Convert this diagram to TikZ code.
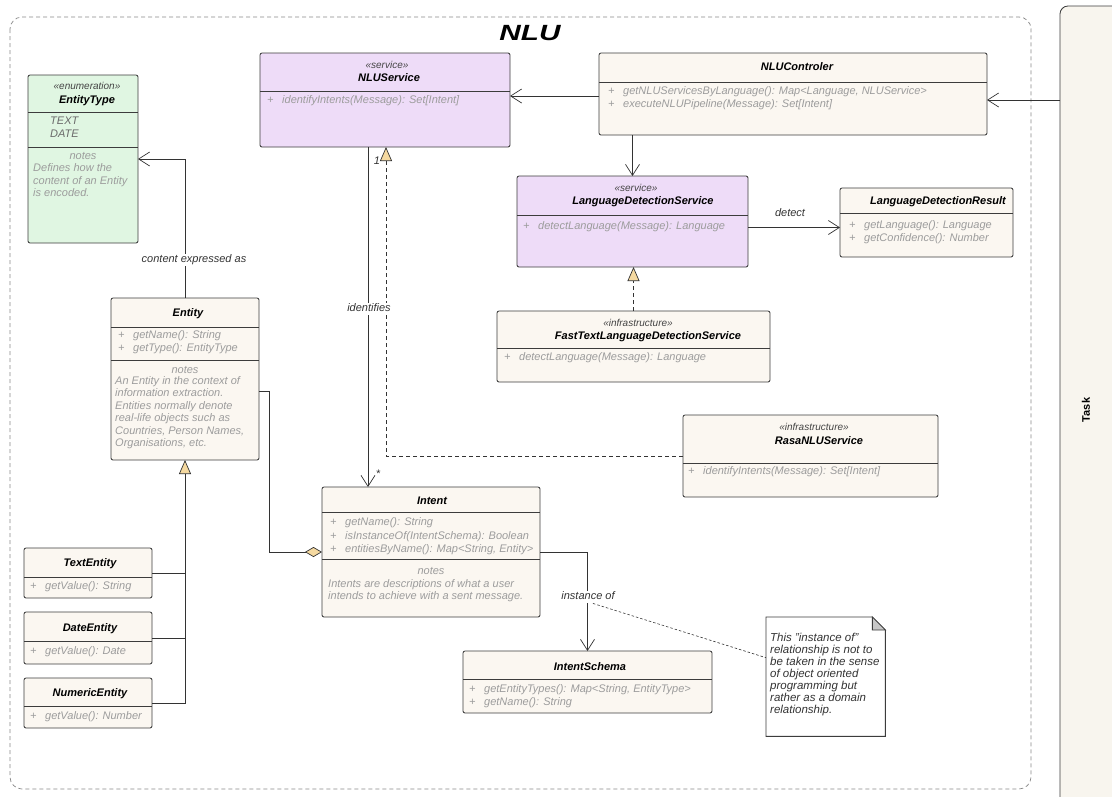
\documentclass[tikz,border=0pt]{standalone}
\usepackage{fontspec}
\setmainfont{Liberation Sans}
\usetikzlibrary{arrows.meta,calc}

\definecolor{creamc}{HTML}{FBF7F1}
\definecolor{lavc}{HTML}{EEDCF8}
\definecolor{greenc}{HTML}{E0F6E2}
\definecolor{tanc}{HTML}{F5D9A0}
\definecolor{linec}{HTML}{3C3C3C}
\definecolor{memc}{HTML}{9C9C9C}
\definecolor{sterc}{HTML}{444444}
\definecolor{labc}{HTML}{333333}
\definecolor{taskc}{HTML}{F8F5EE}
\definecolor{pkgc}{HTML}{888888}
\definecolor{enumc}{HTML}{6A6A6A}

\tikzset{
  box/.style={draw=linec, line width=0.85pt, rounded corners=2pt, anchor=north west,
    inner sep=0pt, outer sep=0pt},
  txt/.style={inner sep=0pt, text height=8pt, text depth=2.5pt},
  ttl/.style={txt, font=\fontsize{11}{13}\selectfont\bfseries\itshape, text=black},
  ster/.style={txt, font=\fontsize{10}{12}\selectfont\itshape, text=sterc},
  mem/.style={txt, anchor=west, font=\fontsize{11}{13}\selectfont\itshape, text=memc},
  notehd/.style={txt, font=\fontsize{11}{13}\selectfont\itshape, text=memc},
  notetxt/.style={txt, anchor=west, font=\fontsize{11.5}{13}\selectfont\itshape, text=labc},
  lbl/.style={txt, font=\fontsize{11}{13}\selectfont\itshape, text=labc},
  sepl/.style={draw=linec, line width=0.85pt},
  conn/.style={draw=labc, line width=0.7pt},
  assoc/.style={conn, -{Straight Barb[length=11pt,width=14pt]}},
  realz/.style={draw=labc, line width=0.7pt, dash pattern=on 4pt off 3pt,
    -{Triangle[length=14pt,width=12pt,fill=tanc]}},
  gen/.style={conn, {Triangle[length=14pt,width=12pt,fill=tanc]}-},
  aggr/.style={conn, -{Diamond[length=17pt,width=10pt,fill=tanc]}},
}

% "+" marker and member text of one class row
\newcommand\mbr[4]{%
  \node[mem] (#1p) at (#2,#3) {+};
  \node[mem] (#1) at ({#2+15},#3) {#4};}

\begin{document}
\begin{tikzpicture}[x=1pt,y=-1pt]
\useasboundingbox (0,0) rectangle (1112,796);

% package frame and side lane
\draw[draw=pkgc, line width=0.7pt, dash pattern=on 4pt off 3pt, rounded corners=12pt]
  (10,17) rectangle (1031,789);
\node[inner sep=0pt, xscale=1.35, font=\fontsize{22}{24}\selectfont\bfseries\itshape] (pkgtitle) at (530,33) {NLU};
\node[box, fill=taskc, draw=linec, rounded corners=8pt, minimum width=80pt, minimum height=810pt] (task) at (1060,6) {};
\node[txt, rotate=90, font=\fontsize{11}{13}\selectfont\bfseries] (tasklbl) at (1087,410) {Task};

% NLUService
\node[box, fill=lavc, minimum width=250pt, minimum height=94pt] (svc) at (260,53) {};
\node[ster] (svcS) at (387,66) {«service»};
\node[ttl] (svcN) at (389,79) {NLUService};
\draw[sepl] (260,91) -- (510,91);
\mbr{svcM}{267}{101}{identifyIntents(Message): Set[Intent]}

% NLUControler
\node[box, fill=creamc, minimum width=388pt, minimum height=82pt] (ctrl) at (599,53) {};
\node[ttl] (ctrlN) at (797,68) {NLUControler};
\draw[sepl] (599,82) -- (987,82);
\mbr{ctrlA}{608}{92}{getNLUServicesByLanguage(): Map<Language, NLUService>}
\mbr{ctrlB}{608}{105}{executeNLUPipeline(Message): Set[Intent]}

% LanguageDetectionService
\node[box, fill=lavc, minimum width=231pt, minimum height=91pt] (lds) at (517,176) {};
\node[ster] (ldsS) at (636,189) {«service»};
\node[ttl] (ldsN) at (643,202) {LanguageDetectionService};
\draw[sepl] (517,215) -- (748,215);
\mbr{ldsM}{523}{227}{detectLanguage(Message): Language}

% LanguageDetectionResult
\node[box, fill=creamc, minimum width=173pt, minimum height=69pt] (ldr) at (840,188) {};
\node[ttl] (ldrN) at (938,202) {LanguageDetectionResult};
\draw[sepl] (840,213) -- (1013,213);
\mbr{ldrA}{849}{226}{getLanguage(): Language}
\mbr{ldrB}{849}{239}{getConfidence(): Number}

% FastTextLanguageDetectionService
\node[box, fill=creamc, minimum width=273pt, minimum height=71pt] (ft) at (497,311) {};
\node[ster] (ftS) at (638,324) {«infrastructure»};
\node[ttl] (ftN) at (648,337) {FastTextLanguageDetectionService};
\draw[sepl] (497,348) -- (770,348);
\mbr{ftM}{504}{358}{detectLanguage(Message): Language}

% RasaNLUService
\node[box, fill=creamc, minimum width=255pt, minimum height=82pt] (rasa) at (683,415) {};
\node[ster] (rasaS) at (814,428) {«infrastructure»};
\node[ttl] (rasaN) at (819,442) {RasaNLUService};
\draw[sepl] (683,463) -- (938,463);
\mbr{rasaM}{688}{472}{identifyIntents(Message): Set[Intent]}

% EntityType
\node[box, fill=greenc, minimum width=110pt, minimum height=168pt] (etype) at (28,75) {};
\node[ster] (etypeS) at (87,87) {«enumeration»};
\node[ttl] (etypeN) at (87,101) {EntityType};
\draw[sepl] (28,112) -- (138,112);
\node[mem, text=enumc] (etT) at (50,122) {TEXT};
\node[mem, text=enumc] (etD) at (50,135) {DATE};
\draw[sepl] (28,147) -- (138,147);
\node[notehd] (etNo) at (83,157) {notes};
\node[mem] (etL1) at (33,169) {Defines how the};
\node[mem] (etL2) at (33,182) {content of an Entity};
\node[mem] (etL3) at (33,194) {is encoded.};

% Entity
\node[box, fill=creamc, minimum width=148pt, minimum height=162pt] (entity) at (111,298) {};
\node[ttl] (entN) at (188,314) {Entity};
\draw[sepl] (111,327) -- (259,327);
\mbr{entA}{118}{336}{getName(): String}
\mbr{entB}{118}{349}{getType(): EntityType}
\draw[sepl] (111,360) -- (259,360);
\node[notehd] (entNo) at (185,371) {notes};
\node[mem] (entL1) at (115,382) {An Entity in the context of};
\node[mem] (entL2) at (115,394) {information extraction.};
\node[mem] (entL3) at (115,407) {Entities normally denote};
\node[mem] (entL4) at (115,419) {real-life objects such as};
\node[mem] (entL5) at (115,432) {Countries, Person Names,};
\node[mem] (entL6) at (115,444) {Organisations, etc.};

% Intent
\node[box, fill=creamc, minimum width=218pt, minimum height=130pt] (intent) at (322,487) {};
\node[ttl] (intN) at (432,502) {Intent};
\draw[sepl] (322,512) -- (540,512);
\node[mem] (intAp) at (330,523) {+};
\node[mem] (intA) at (345,523) {getName(): String};
\node[mem] (intBp) at (330,537) {+};
\node[mem] (intB) at (345,537) {isInstanceOf(IntentSchema): Boolean};
\node[mem] (intCp) at (330,550) {+};
\node[mem] (intC) at (345,550) {entitiesByName(): Map<String, Entity>};
\draw[sepl] (322,559) -- (540,559);
\node[notehd] (intNo) at (431,572) {notes};
\node[mem] (intL1) at (328,585) {Intents are descriptions of what a user};
\node[mem] (intL2) at (328,597) {intends to achieve with a sent message.};

% Entity subclasses
\node[box, fill=creamc, minimum width=128pt, minimum height=50pt] (tent) at (24,548) {};
\node[ttl] (tentN) at (90,564) {TextEntity};
\draw[sepl] (24,577) -- (152,577);
\mbr{tentM}{30}{587}{getValue(): String}

\node[box, fill=creamc, minimum width=128pt, minimum height=52pt] (dent) at (24,612) {};
\node[ttl] (dentN) at (90,629) {DateEntity};
\draw[sepl] (24,641) -- (152,641);
\mbr{dentM}{30}{652}{getValue(): Date}

\node[box, fill=creamc, minimum width=128pt, minimum height=50pt] (nent) at (24,678) {};
\node[ttl] (nentN) at (90,694) {NumericEntity};
\draw[sepl] (24,706) -- (152,706);
\mbr{nentM}{30}{717}{getValue(): Number}

% IntentSchema
\node[box, fill=creamc, minimum width=249pt, minimum height=62pt] (schema) at (463,651) {};
\node[ttl] (schN) at (590,668) {IntentSchema};
\draw[sepl] (463,679) -- (712,679);
\mbr{schA}{469}{690}{getEntityTypes(): Map<String, EntityType>}
\mbr{schB}{469}{703}{getName(): String}

% note with folded corner
\node[anchor=north west, inner sep=0pt, minimum width=119pt, minimum height=119pt] (note) at (766,617) {};
\draw[draw=linec, line width=0.85pt, fill=white]
  (note.north west) -- ($(note.north east)+(-13,0)$) -- ($(note.north east)+(0,13)$)
  -- (note.south east) -- (note.south west) -- cycle;
\draw[draw=linec, line width=0.85pt, fill=black!22]
  ($(note.north east)+(-13,0)$) -- ($(note.north east)+(-13,13)$) -- ($(note.north east)+(0,13)$) -- cycle;
\node[notetxt] (noteL1) at (770,639) {This "instance of"};
\node[notetxt] (noteL2) at (770,651) {relationship is not to};
\node[notetxt] (noteL3) at (770,663) {be taken in the sense};
\node[notetxt] (noteL4) at (770,675) {of object oriented};
\node[notetxt] (noteL5) at (770,687) {programming but};
\node[notetxt] (noteL6) at (770,699) {rather as a domain};
\node[notetxt] (noteL7) at (770,711) {relationship.};

% connectors
\coordinate (tin) at ($(ctrl.east)+(0,6)$);
\draw[assoc] (tin -| task.west) -- (tin);
\draw[assoc] ([yshift=-2pt]ctrl.west) -- ([yshift=4pt]svc.east);
\draw[assoc] (lds.north |- ctrl.south) -- (lds.north);
\coordinate (dout) at ($(lds.east)+(0,6)$);
\draw[assoc] (dout) -- (dout -| ldr.west);
\node[lbl, anchor=south] (detectL) at (790,219) {detect};
\draw[realz] (ft.north) -- (ft.north |- lds.south);
\draw[realz] (rasa.west) -| ([xshift=1pt]svc.south);

\draw[assoc] ([xshift=-17pt]svc.south) -- ([xshift=-63pt]intent.north);
\node[lbl] (oneL) at (377,162) {1};
\node[lbl] (starL) at (378,475) {*};
\node[lbl, fill=white, inner ysep=1pt] (identL) at (369,309) {identifies};

\draw[assoc] (entity.north) |- (etype.east);
\node[lbl, fill=white, inner ysep=1pt] (contentL) at (194,260) {content expressed as};

\coordinate (ag) at ($(entity.east)+(0,12)$);
\draw[aggr] (ag) -- ++(10,0) |- (intent.west);

\draw[gen] (entity.south) -- (entity.south |- nent.east) -- (nent.east);
\draw[conn] (tent.east) -- (tent.east -| entity.south);
\draw[conn] (dent.east) -- (dent.east -| entity.south);

\draw[assoc] (intent.east) -| (schema.north);
\node[lbl, fill=white, inner ysep=1pt] (instL) at (588,597) {instance of};
\draw[draw=labc, line width=0.6pt, dash pattern=on 2.5pt off 2pt]
  ([xshift=5pt]instL.south) -- ($(note.west)+(0,-19)$);

\end{tikzpicture}
\end{document}
